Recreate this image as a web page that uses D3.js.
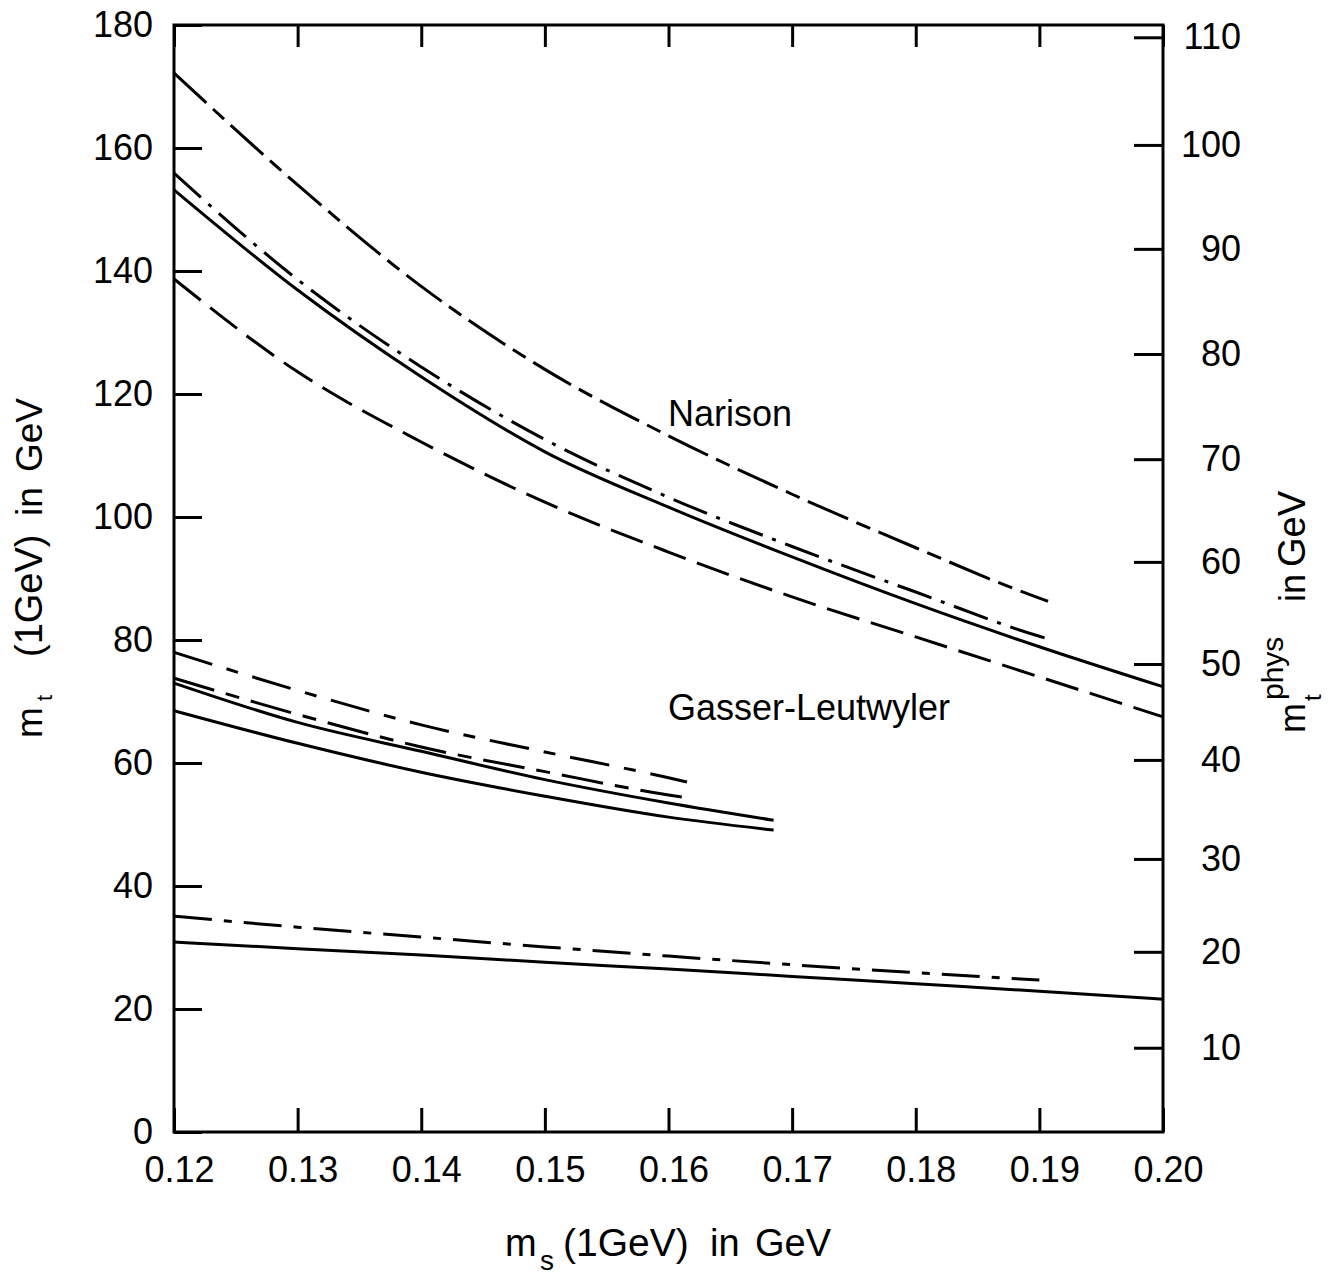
<!DOCTYPE html>
<html>
<head>
<meta charset="utf-8">
<script src="https://cdn.jsdelivr.net/npm/d3@7"></script>
<style>
  html, body { margin: 0; padding: 0; background: #fff; }
  svg { display: block; }
  text { font-family: "Liberation Sans", Arial, sans-serif; fill: #000; }
</style>
</head>
<body>
<svg id="chart" width="1330" height="1279"></svg>
<script>
// ---------- data ----------
const xTicks = [0.12, 0.13, 0.14, 0.15, 0.16, 0.17, 0.18, 0.19, 0.20];
const xTickLabels = ["0.12", "0.13", "0.14", "0.15", "0.16", "0.17", "0.18", "0.19", "0.20"];
const yTicks = [0, 20, 40, 60, 80, 100, 120, 140, 160, 180];
const yTickLabels = ["0", "20", "40", "60", "80", "100", "120", "140", "160", "180"];
// right axis (m_t phys): tick values and their position expressed in left-axis units
const rightTicks = [10, 20, 30, 40, 50, 60, 70, 80, 90, 100, 110];
const rightTickLabels = ["10", "20", "30", "40", "50", "60", "70", "80", "90", "100", "110"];
const rightTickAt = [13.7, 29.3, 44.4, 60.5, 76.1, 92.7, 109.4, 126.5, 143.6, 160.5, 178.0];

// Narison curves
const narLongX = [0.12, 0.13, 0.14, 0.15, 0.16, 0.17, 0.18, 0.19, 0.1907];
const narLongY = [172.2, 154.0, 137.5, 124.0, 113.2, 103.7, 95.0, 86.8, 86.3];
const narDashDotX = [0.12, 0.13, 0.14, 0.15, 0.16, 0.17, 0.18, 0.19, 0.1905];
const narDashDotY = [155.9, 138.6, 124.4, 112.6, 103.2, 95.2, 87.8, 80.6, 80.3];
const narSolidX = [0.12, 0.13, 0.14, 0.15, 0.16, 0.17, 0.18, 0.19, 0.20];
const narSolidY = [153.2, 136.9, 122.8, 110.6, 101.6, 93.5, 85.9, 78.9, 72.4];
const narShortX = [0.12, 0.13, 0.14, 0.15, 0.16, 0.17, 0.18, 0.19, 0.20];
const narShortY = [138.7, 123.6, 112.2, 102.4, 94.3, 87.0, 80.5, 74.0, 67.5];

// Gasser-Leutwyler curves
const glDashAX = [0.12, 0.13, 0.14, 0.15, 0.16, 0.1615];
const glDashAY = [78.0, 71.8, 66.2, 61.8, 57.6, 56.9];
const glDashBX = [0.12, 0.13, 0.14, 0.15, 0.16, 0.162];
const glDashBY = [73.8, 67.9, 62.6, 58.6, 54.8, 54.2];
const glSolidAX = [0.12, 0.13, 0.14, 0.15, 0.16, 0.1685];
const glSolidAY = [73.0, 66.6, 61.9, 57.3, 53.5, 50.7];
const glSolidBX = [0.12, 0.13, 0.14, 0.15, 0.16, 0.1685];
const glSolidBY = [68.5, 63.2, 58.5, 54.6, 51.2, 49.1];

// lowest pair
const lowDashX = [0.12, 0.13, 0.14, 0.15, 0.16, 0.17, 0.18, 0.19];
const lowDashY = [35.1, 33.3, 31.7, 30.1, 28.6, 27.2, 25.9, 24.7];
const lowSolidX = [0.12, 0.13, 0.14, 0.15, 0.16, 0.17, 0.18, 0.19, 0.20];
const lowSolidY = [30.9, 29.8, 28.8, 27.6, 26.5, 25.3, 24.1, 22.9, 21.6];

const series = [
  { x: narLongX, y: narLongY, dash: "44,9,15,9" },
  { x: narDashDotX, y: narDashDotY, dash: "36,10,4,10" },
  { x: narSolidX, y: narSolidY, dash: null },
  { x: narShortX, y: narShortY, dash: "34,12" },
  { x: glDashAX, y: glDashAY, dash: "40,15,12,15" },
  { x: glDashBX, y: glDashBY, dash: "42,12,14,12" },
  { x: glSolidAX, y: glSolidAY, dash: null },
  { x: glSolidBX, y: glSolidBY, dash: null },
  { x: lowDashX, y: lowDashY, dash: "38,12,8,12" },
  { x: lowSolidX, y: lowSolidY, dash: null }
];

// ---------- layout ----------
const L = 174, R = 1163, T = 25, B = 1132;
const svg = d3.select("#chart");
const xScale = d3.scaleLinear().domain([0.12, 0.20]).range([L, R]);
const yScale = d3.scaleLinear().domain([0, 180]).range([B, T]);
const rScale = d3.scaleLinear().domain(rightTicks).range(rightTickAt.map(v => yScale(v)));

const fs = 36;

function styleAxis(g) {
  g.select(".domain").remove();
  g.selectAll(".tick line").attr("stroke", "#000").attr("stroke-width", 3);
  g.selectAll(".tick text").attr("font-size", fs).attr("font-family", "Liberation Sans, Arial, sans-serif").attr("fill", "#000");
}

// bottom axis
svg.append("g").attr("transform", `translate(0,${B})`)
  .call(d3.axisBottom(xScale).tickValues(xTicks).tickFormat((d, i) => xTickLabels[i]).tickSize(-24).tickPadding(24))
  .call(styleAxis)
  .call(g => g.selectAll(".tick text").attr("dx", 5));

// top axis (ticks only)
svg.append("g").attr("transform", `translate(0,${T})`)
  .call(d3.axisTop(xScale).tickValues(xTicks).tickFormat("").tickSize(-22))
  .call(styleAxis);

// left axis
svg.append("g").attr("transform", `translate(${L},0)`)
  .call(d3.axisLeft(yScale).tickValues(yTicks).tickFormat((d, i) => yTickLabels[i]).tickSize(-28).tickPadding(21))
  .call(styleAxis);

// right axis
svg.append("g").attr("transform", `translate(${R},0)`)
  .call(d3.axisRight(rScale).tickValues(rightTicks).tickFormat((d, i) => rightTickLabels[i]).tickSize(-29).tickPadding(78))
  .call(styleAxis)
  .call(g => g.selectAll(".tick text").attr("text-anchor", "end"));

// frame
svg.append("rect").attr("x", L).attr("y", T).attr("width", R - L).attr("height", B - T)
  .attr("fill", "none").attr("stroke", "#000").attr("stroke-width", 3);

// curves
const line = d3.line()
  .x(d => xScale(d[0]))
  .y(d => yScale(d[1]))
  .curve(d3.curveMonotoneX);

series.forEach(s => {
  const pts = s.x.map((xv, i) => [xv, s.y[i]]);
  svg.append("path")
    .attr("d", line(pts))
    .attr("fill", "none")
    .attr("stroke", "#000")
    .attr("stroke-width", 3)
    .attr("stroke-dasharray", s.dash)
    .attr("stroke-linecap", "butt");
});

// annotations
svg.append("text").attr("x", 668).attr("y", 426).attr("font-size", fs).text("Narison");
svg.append("text").attr("x", 668).attr("y", 720).attr("font-size", fs).text("Gasser-Leutwyler");

// x title
svg.append("text").attr("x", 505).attr("y", 1256).attr("font-size", 38).text("m");
svg.append("text").attr("x", 540).attr("y", 1270).attr("font-size", 28).text("s");
svg.append("text").attr("x", 563).attr("y", 1256).attr("font-size", 39).text("(1GeV)");
svg.append("text").attr("x", 710).attr("y", 1256).attr("font-size", 38).text("in");
svg.append("text").attr("x", 755).attr("y", 1256).attr("font-size", 38).text("GeV");

// left y title
const lt = svg.append("g").attr("transform", "translate(42,738) rotate(-90)");
lt.append("text").attr("x", 0).attr("y", 0).attr("font-size", 37).text("m");
lt.append("text").attr("x", 37).attr("y", 10).attr("font-size", 22).text("t");
lt.append("text").attr("x", 81).attr("y", 0).attr("font-size", 38).text("(1GeV)");
lt.append("text").attr("x", 222).attr("y", 0).attr("font-size", 37).text("in");
lt.append("text").attr("x", 266).attr("y", 0).attr("font-size", 37).text("GeV");

// right y title
const rt = svg.append("g").attr("transform", "translate(1305,733) rotate(-90)");
rt.append("text").attr("x", 0).attr("y", 0).attr("font-size", 36).text("m");
rt.append("text").attr("x", 33).attr("y", -22).attr("font-size", 30).text("phys");
rt.append("text").attr("x", 32).attr("y", 16).attr("font-size", 24).text("t");
rt.append("text").attr("x", 131).attr("y", 0).attr("font-size", 36).text("in");
rt.append("text").attr("x", 166).attr("y", 0).attr("font-size", 38).text("GeV");
</script>
</body>
</html>
